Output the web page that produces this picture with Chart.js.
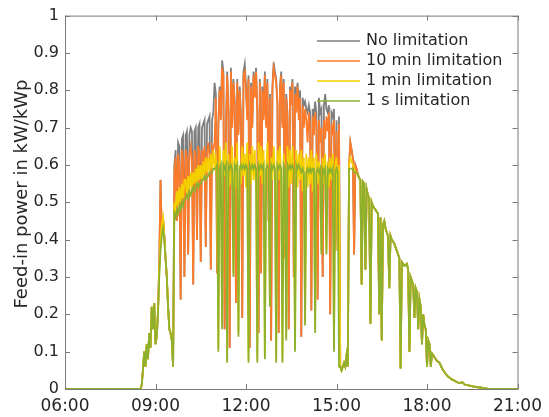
<!DOCTYPE html>
<html>
<head>
<meta charset="utf-8">
<script src="https://cdn.jsdelivr.net/npm/chart.js@4"></script>
<style>
  html, body { margin: 0; padding: 0; background: #fff; }
  canvas { display: block; }
</style>
</head>
<body>
<canvas id="myChart" width="549" height="417"></canvas>
<script>
// series names and colours (legend order)
const seriesNames = ['No limitation', '10 min limitation', '1 min limitation', '1 s limitation'];
const seriesColors = ['#7f7f7f', '#fd7b2a', '#f4d000', '#8db12e'];

// x tick labels
const timeTicks = ['06:00', '09:00', '12:00', '15:00', '18:00', '21:00'];

// all times are minutes after midnight

// morning, identical for every series
const headTimes = [360, 510, 512.5, 515, 517.5, 520, 522.5, 525, 527.5, 530, 532.5, 535, 537.5];
const headValues = [0, 0, 0.01, 0.05, 0.10, 0.06, 0.12, 0.08, 0.15, 0.11, 0.22, 0.16, 0.23];

// midday (09:00 - 15:40), where the series differ
const midTimes = [
  540, 542.5, 545, 547.5, 550, 552.5, 555, 557.5, 560, 562.5, 565, 567.5,
  570, 572.5, 575, 577.5, 580, 582.5, 585, 587.5, 590, 592.5, 595, 597.5,
  600, 602.5, 605, 607.5, 610, 612.5, 615, 617.5, 620, 622.5, 625, 627.5,
  630, 632.5, 635, 637.5, 640, 642.5, 645, 647.5, 650, 652.5, 655, 657.5,
  660, 662.5, 665, 667.5, 670, 672.5, 675, 677.5, 680, 682.5, 685, 687.5,
  690, 692.5, 695, 697.5, 700, 702.5, 705, 707.5, 710, 712.5, 715, 717.5,
  720, 722.5, 725, 727.5, 730, 732.5, 735, 737.5, 740, 742.5, 745, 747.5,
  750, 752.5, 755, 757.5, 760, 762.5, 765, 767.5, 770, 772.5, 775, 777.5,
  780, 782.5, 785, 787.5, 790, 792.5, 795, 797.5, 800, 802.5, 805, 807.5,
  810, 812.5, 815, 817.5, 820, 822.5, 825, 827.5, 830, 832.5, 835, 837.5,
  840, 842.5, 845, 847.5, 850, 852.5, 855, 857.5, 860, 862.5, 865, 867.5,
  870, 872.5, 875, 877.5, 880, 882.5, 885, 887.5, 890, 892.5, 895, 897.5,
  900, 902.5, 905, 907.5, 910, 912.5, 915, 917.5, 920, 922.5, 925, 927.5,
  930, 932.5, 935, 937.5, 940
];

const noLimit = [
  0.12, 0.14, 0.21, 0.34, 0.56, 0.42, 0.46, 0.41, 0.35, 0.30, 0.22, 0.16,
  0.15, 0.13, 0.06, 0.60, 0.64, 0.45, 0.66, 0.65, 0.24, 0.67, 0.68, 0.30,
  0.68, 0.69, 0.36, 0.68, 0.70, 0.69, 0.28, 0.69, 0.70, 0.40, 0.70, 0.71,
  0.34, 0.70, 0.71, 0.72, 0.38, 0.71, 0.72, 0.73, 0.32, 0.72, 0.74, 0.82,
  0.79, 0.31, 0.71, 0.81, 0.73, 0.88, 0.85, 0.16, 0.69, 0.85, 0.75, 0.11,
  0.86, 0.71, 0.83, 0.77, 0.23, 0.83, 0.69, 0.81, 0.73, 0.19, 0.85, 0.87,
  0.81, 0.73, 0.84, 0.11, 0.82, 0.71, 0.85, 0.79, 0.86, 0.75, 0.15, 0.83,
  0.31, 0.81, 0.73, 0.85, 0.71, 0.83, 0.45, 0.79, 0.13, 0.81, 0.875, 0.85,
  0.83, 0.77, 0.15, 0.81, 0.85, 0.71, 0.83, 0.35, 0.79, 0.74, 0.16, 0.81,
  0.79, 0.83, 0.30, 0.81, 0.78, 0.82, 0.77, 0.80, 0.14, 0.78, 0.76, 0.77,
  0.75, 0.74, 0.76, 0.74, 0.21, 0.75, 0.73, 0.77, 0.74, 0.24, 0.78, 0.74,
  0.75, 0.30, 0.76, 0.79, 0.75, 0.74, 0.76, 0.20, 0.74, 0.73, 0.75, 0.37,
  0.72, 0.37, 0.73, 0.06, 0.05, 0.06, 0.07, 0.06, 0.09, 0.06, 0.60, 0.66,
  0.64, 0.62, 0.36, 0.60, 0.59
];

const limit10min = [
  0.12, 0.14, 0.21, 0.34, 0.56, 0.42, 0.46, 0.41, 0.35, 0.30, 0.22, 0.16,
  0.15, 0.13, 0.06, 0.58, 0.62, 0.45, 0.63, 0.60, 0.24, 0.64, 0.61, 0.30,
  0.64, 0.62, 0.36, 0.63, 0.65, 0.61, 0.28, 0.64, 0.62, 0.40, 0.65, 0.63,
  0.34, 0.64, 0.62, 0.65, 0.38, 0.63, 0.66, 0.62, 0.32, 0.65, 0.64, 0.66,
  0.78, 0.31, 0.70, 0.80, 0.72, 0.86, 0.84, 0.16, 0.68, 0.84, 0.74, 0.11,
  0.85, 0.70, 0.82, 0.76, 0.23, 0.82, 0.68, 0.80, 0.72, 0.19, 0.84, 0.85,
  0.80, 0.72, 0.83, 0.11, 0.81, 0.70, 0.84, 0.78, 0.85, 0.74, 0.15, 0.82,
  0.31, 0.80, 0.72, 0.84, 0.70, 0.82, 0.45, 0.78, 0.13, 0.80, 0.86, 0.84,
  0.82, 0.76, 0.15, 0.80, 0.84, 0.70, 0.82, 0.35, 0.78, 0.72, 0.16, 0.80,
  0.76, 0.82, 0.30, 0.79, 0.74, 0.81, 0.72, 0.78, 0.14, 0.76, 0.70, 0.75,
  0.72, 0.66, 0.74, 0.70, 0.21, 0.73, 0.68, 0.74, 0.71, 0.24, 0.72, 0.66,
  0.70, 0.30, 0.72, 0.67, 0.73, 0.69, 0.74, 0.20, 0.71, 0.68, 0.72, 0.37,
  0.69, 0.37, 0.71, 0.06, 0.05, 0.06, 0.07, 0.06, 0.09, 0.06, 0.60, 0.66,
  0.64, 0.62, 0.36, 0.60, 0.59
];

const limit1min = [
  0.12, 0.14, 0.21, 0.32, 0.40, 0.44, 0.46, 0.41, 0.35, 0.30, 0.22, 0.16,
  0.15, 0.13, 0.06, 0.50, 0.48, 0.53, 0.49, 0.54, 0.50, 0.55, 0.51, 0.56,
  0.56, 0.52, 0.57, 0.53, 0.58, 0.54, 0.58, 0.55, 0.59, 0.55, 0.60, 0.56,
  0.60, 0.56, 0.61, 0.57, 0.62, 0.58, 0.62, 0.58, 0.63, 0.59, 0.64, 0.60,
  0.62, 0.56, 0.11, 0.65, 0.55, 0.17, 0.64, 0.57, 0.66, 0.08, 0.63, 0.55,
  0.56, 0.65, 0.31, 0.62, 0.54, 0.66, 0.15, 0.60, 0.55, 0.65, 0.57, 0.63,
  0.54, 0.66, 0.08, 0.63, 0.55, 0.65, 0.56, 0.64, 0.53, 0.08, 0.66, 0.57,
  0.65, 0.55, 0.64, 0.09, 0.57, 0.66, 0.54, 0.23, 0.62, 0.56, 0.65, 0.58,
  0.08, 0.64, 0.56, 0.65, 0.55, 0.08, 0.63, 0.57, 0.14, 0.65, 0.54, 0.64,
  0.55, 0.65, 0.57, 0.11, 0.64, 0.54, 0.63, 0.56, 0.64, 0.53, 0.62, 0.18,
  0.63, 0.54, 0.62, 0.55, 0.64, 0.53, 0.62, 0.16, 0.63, 0.55, 0.61, 0.54,
  0.37, 0.62, 0.55, 0.63, 0.37, 0.61, 0.54, 0.62, 0.56, 0.63, 0.11, 0.60,
  0.62, 0.37, 0.60, 0.06, 0.05, 0.06, 0.07, 0.06, 0.09, 0.06, 0.60, 0.62,
  0.61, 0.60, 0.59, 0.58, 0.58
];

const limit1s = [
  0.12, 0.14, 0.20, 0.30, 0.37, 0.41, 0.43, 0.40, 0.35, 0.30, 0.22, 0.16,
  0.15, 0.13, 0.06, 0.47, 0.46, 0.48, 0.47, 0.49, 0.48, 0.50, 0.49, 0.51,
  0.51, 0.52, 0.51, 0.53, 0.52, 0.53, 0.54, 0.53, 0.54, 0.55, 0.54, 0.55,
  0.55, 0.56, 0.56, 0.57, 0.56, 0.57, 0.57, 0.58, 0.58, 0.58, 0.59, 0.59,
  0.59, 0.60, 0.10, 0.59, 0.60, 0.16, 0.60, 0.59, 0.60, 0.07, 0.60, 0.59,
  0.60, 0.59, 0.30, 0.60, 0.59, 0.60, 0.14, 0.59, 0.60, 0.59, 0.60, 0.59,
  0.60, 0.59, 0.07, 0.60, 0.59, 0.60, 0.59, 0.60, 0.59, 0.07, 0.60, 0.59,
  0.60, 0.59, 0.60, 0.08, 0.59, 0.60, 0.59, 0.22, 0.60, 0.59, 0.60, 0.59,
  0.07, 0.60, 0.59, 0.60, 0.59, 0.07, 0.60, 0.59, 0.13, 0.60, 0.59, 0.60,
  0.59, 0.60, 0.59, 0.10, 0.60, 0.59, 0.60, 0.59, 0.58, 0.59, 0.58, 0.17,
  0.58, 0.59, 0.58, 0.59, 0.58, 0.59, 0.59, 0.15, 0.58, 0.59, 0.58, 0.59,
  0.36, 0.59, 0.58, 0.59, 0.36, 0.59, 0.58, 0.59, 0.58, 0.59, 0.10, 0.58,
  0.59, 0.58, 0.06, 0.06, 0.05, 0.06, 0.07, 0.06, 0.09, 0.06, 0.59, 0.59,
  0.59, 0.59, 0.58, 0.58, 0.58
];

// afternoon, identical for every series
const tailTimes = [
  942.5, 945, 947.5, 950, 952.5, 955, 957.5, 960, 962.5, 965, 967.5, 970,
  972.5, 975, 977.5, 980, 982.5, 985, 987.5, 990, 992.5, 995, 997.5, 1000,
  1002.5, 1005, 1007.5, 1010, 1015, 1020, 1022.5, 1025, 1027.5, 1030, 1035, 1040,
  1042.5, 1045, 1047.5, 1050, 1052.5, 1055, 1057.5, 1060, 1062.5, 1065, 1067.5, 1070,
  1072.5, 1075, 1077.5, 1080, 1082.5, 1085, 1087.5, 1090, 1095, 1100, 1105, 1110,
  1115, 1120, 1125, 1130, 1135, 1140, 1145, 1150, 1155, 1165, 1175, 1185,
  1200, 1215, 1260
];
const tailValues = [
  0.575, 0.565, 0.56, 0.28, 0.555, 0.55, 0.32, 0.535, 0.52, 0.51, 0.175, 0.50,
  0.49, 0.485, 0.48, 0.475, 0.47, 0.20, 0.46, 0.13, 0.44, 0.45, 0.43, 0.42,
  0.41, 0.27, 0.41, 0.40, 0.39, 0.37, 0.36, 0.35, 0.055, 0.34, 0.33, 0.335,
  0.32, 0.10, 0.30, 0.29, 0.28, 0.19, 0.27, 0.26, 0.16, 0.24, 0.22, 0.12,
  0.20, 0.17, 0.16, 0.06, 0.13, 0.12, 0.06, 0.095, 0.085, 0.075, 0.07, 0.055,
  0.045, 0.036, 0.03, 0.025, 0.022, 0.018, 0.016, 0.018, 0.012, 0.009, 0.006, 0.004,
  0.001, 0, 0
];

const midSeries = [noLimit, limit10min, limit1min, limit1s];

function toHours(s) {
  const [h, m] = s.split(':').map(Number);
  return h + m / 60;
}

function buildPoints(mid) {
  const times = headTimes.concat(midTimes, tailTimes);
  const vals = headValues.concat(mid, tailValues);
  return times.map((t, i) => ({ x: t / 60, y: vals[i] }));
}

const FONT = 'DejaVu Sans, Verdana, sans-serif';
const TEXT = '#262626';
const AXIS = '#7a7a7a';

// box, inward ticks, y title and legend inside the plot
const frame = {
  id: 'frame',
  afterDraw(chart) {
    const { ctx, chartArea: a, scales: { x, y } } = chart;
    ctx.save();
    ctx.strokeStyle = AXIS;
    ctx.lineWidth = 1;
    ctx.strokeRect(a.left + 0.5, a.top + 0.5, a.right - a.left, a.bottom - a.top);
    ctx.beginPath();
    x.ticks.forEach(t => {
      const px = Math.round(x.getPixelForValue(t.value)) + 0.5;
      ctx.moveTo(px, a.bottom); ctx.lineTo(px, a.bottom - 5);
      ctx.moveTo(px, a.top); ctx.lineTo(px, a.top + 5);
    });
    y.ticks.forEach(t => {
      const py = Math.round(y.getPixelForValue(t.value)) + 0.5;
      ctx.moveTo(a.left, py); ctx.lineTo(a.left + 5, py);
      ctx.moveTo(a.right, py); ctx.lineTo(a.right - 5, py);
    });
    ctx.stroke();

    // y axis title
    ctx.save();
    ctx.translate(22, 194);
    ctx.rotate(-Math.PI / 2);
    ctx.font = '18px ' + FONT;
    ctx.fillStyle = TEXT;
    ctx.textAlign = 'center';
    ctx.textBaseline = 'middle';
    ctx.fillText('Feed-in power in kW/kWp', 0, 0);
    ctx.restore();

    // legend
    ctx.font = '16px ' + FONT;
    ctx.textAlign = 'left';
    ctx.textBaseline = 'middle';
    seriesNames.forEach((name, i) => {
      const ly = 41 + i * 20;
      ctx.strokeStyle = seriesColors[i];
      ctx.lineWidth = 1.5;
      ctx.beginPath();
      ctx.moveTo(317, ly); ctx.lineTo(360, ly);
      ctx.stroke();
      ctx.fillStyle = TEXT;
      ctx.fillText(name, 366, ly);
    });
    ctx.restore();
  }
};

const ctx = document.querySelector('#myChart');

new Chart(ctx, {
  type: 'line',
  data: {
    datasets: midSeries.map((mid, i) => ({
      label: seriesNames[i],
      data: buildPoints(mid),
      borderColor: seriesColors[i],
      backgroundColor: seriesColors[i],
      borderWidth: 1.8,
      pointRadius: 0,
      tension: 0,
      order: 3 - i // green drawn last, on top
    }))
  },
  options: {
    responsive: false,
    animation: false,
    devicePixelRatio: 1,
    layout: { padding: { top: 13, right: 30, left: 0, bottom: 0 } },
    plugins: { legend: { display: false }, tooltip: { enabled: false } },
    scales: {
      x: {
        type: 'linear',
        min: 6,
        max: 21,
        afterBuildTicks: scale => {
          scale.ticks = timeTicks.map(s => ({ value: toHours(s) }));
        },
        ticks: {
          callback: v => timeTicks.find(s => toHours(s) === v),
          font: { family: FONT, size: 17 },
          color: TEXT,
          padding: 7,
          maxRotation: 0,
          autoSkip: false
        },
        grid: { display: false, drawTicks: false },
        border: { display: false },
        afterFit: s => { s.height = 28; }
      },
      y: {
        min: 0,
        max: 1,
        ticks: {
          stepSize: 0.1,
          callback: v => (v === 0 || v === 1) ? String(v) : v.toFixed(1),
          font: { family: FONT, size: 16 },
          color: TEXT,
          padding: 6
        },
        grid: { display: false, drawTicks: false },
        border: { display: false },
        afterFit: s => { s.width = 65; }
      }
    }
  },
  plugins: [frame]
});
</script>
</body>
</html>
